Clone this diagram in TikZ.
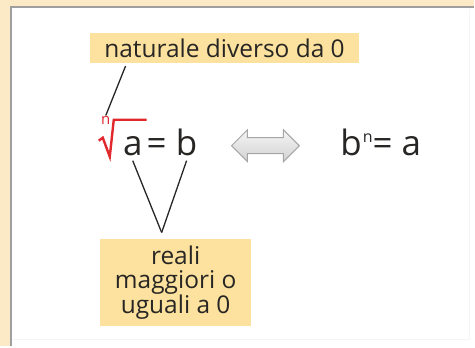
\documentclass[tikz,border=0pt]{standalone}
\usepackage{fontspec}
\setmainfont{Open Sans}
\usetikzlibrary{shapes.arrows}
\definecolor{cornice}{RGB}{252,234,198}
\definecolor{giallo}{RGB}{252,226,158}
\definecolor{testo}{RGB}{40,38,36}
\definecolor{rosso}{RGB}{225,40,45}
\tikzset{
  etichetta/.style={fill=giallo, text=testo, inner sep=0pt},
  linea/.style={draw=testo, line width=1.3pt},
  formula/.style={text=testo, anchor=base, inner sep=0pt, font=\fontsize{35}{35}\selectfont},
}
\begin{document}
\begin{tikzpicture}[x=1pt,y=-1pt]
            % 背景和边框
            \fill[cornice] (0,0) rectangle (475,347);
            \fill[white] (11,7) rectangle (475,347);
            \draw[gray!8, line width=1pt] (13,340) -- (470,340) -- (470,9);
            \draw[gray!75, line width=2pt] (11,347) -- (11,7) -- (475,7);
            \useasboundingbox (0,0) rectangle (475,347);

            % 标签
            \node[etichetta, minimum width=270pt, minimum height=30pt,
                  font=\fontsize{24.5}{24}\selectfont] (nat) at (225,48) {naturale diverso da 0};
            \node[etichetta, minimum width=152pt, minimum height=87pt, align=center,
                  font=\fontsize{24.5}{24}\selectfont] (reali) at (176,283.5) {reali\\maggiori o\\uguali a 0};

            % 根号
            \draw[rosso, line width=2.4pt, line join=miter]
                (99,141) -- (103,138) -- (110,157) -- (114,120) -- (147,120);
            \node[rosso, inner sep=1pt, font=\fontsize{15}{15}\selectfont] (idx) at (106,121) {n};
            \node[formula] (ra) at (133,156) {a};
            \node[formula] (req) at (157,156) {=};
            \node[formula] (rb) at (187,156) {b};

            % 双箭头
            \node[double arrow, draw=gray!70, line width=1pt, top color=gray!8, bottom color=gray!35,
                  minimum width=32pt, minimum height=68pt, double arrow head extend=8pt,
                  inner xsep=0pt, inner ysep=7.5pt] (equiv) at (266,146) {};

            % 右边
            \node[formula, anchor=base west] (rhs) at (341,156)
                {b\kern1pt\raisebox{13pt}{\fontsize{16}{16}\selectfont n}\kern0pt= a};

            % 连线
            \coordinate (apex) at (162,233);
            \draw[linea] ([shift={(36,3)}]nat.south west) -- (idx.north);
            \draw[linea] ([yshift=-5pt]ra.base) -- (apex);
            \draw[linea] ([yshift=-5pt]rb.base) -- (apex);
\end{tikzpicture}
\end{document}
